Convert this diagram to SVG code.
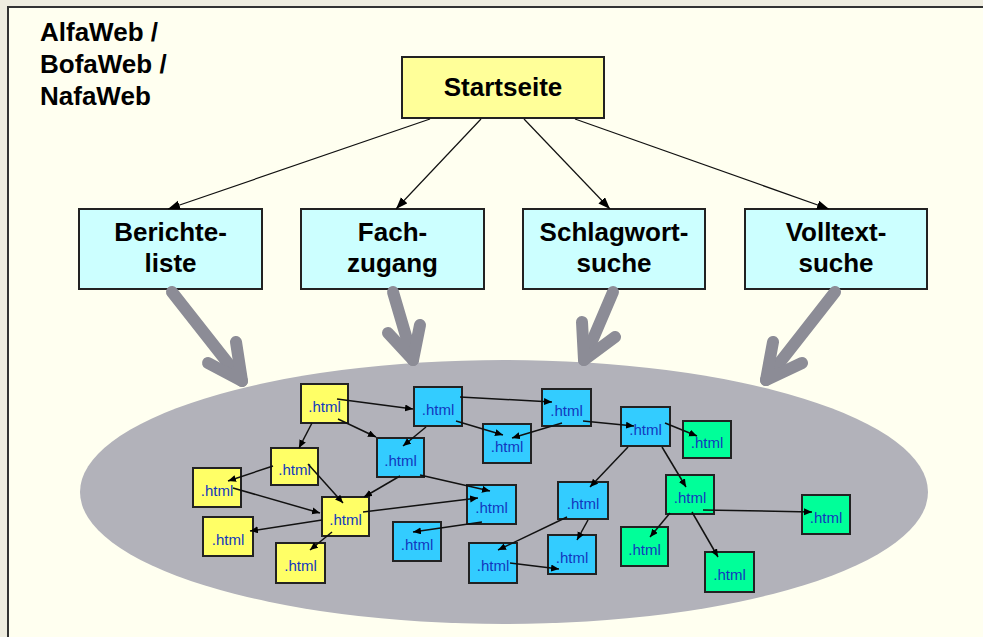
<svg xmlns="http://www.w3.org/2000/svg" width="983" height="637" viewBox="0 0 983 637">
<style>
.lbl{font-family:"Liberation Sans",Arial,sans-serif;font-weight:bold;font-size:26px;fill:#000;text-anchor:middle}
.ttl{font-family:"Liberation Sans",Arial,sans-serif;font-weight:bold;font-size:26px;fill:#000}
.box{stroke:#222;stroke-width:2}
.start{fill:#FFFF99}
.cat{fill:#CCFFFF}
.y{fill:#FFFF66}
.b{fill:#33CCFF}
.g{fill:#00FF99}
.h{font-family:"Liberation Sans",Arial,sans-serif;font-size:15px;fill:#1238BE;text-anchor:middle}
.top{stroke:#111;stroke-width:1.2;fill:none;marker-end:url(#ah)}
.lnk{stroke:#111;stroke-width:1.5;fill:none;marker-end:url(#as)}
.fat{stroke:#8C8C96;stroke-width:12;fill:none;stroke-linecap:round;stroke-linejoin:round}
</style>
<defs>
<marker id="ah" markerUnits="userSpaceOnUse" markerWidth="13" markerHeight="10" refX="12" refY="4.5" orient="auto">
<path d="M0,0 L12,4.5 L0,9 z" fill="#000"/>
</marker>
<marker id="as" markerUnits="userSpaceOnUse" markerWidth="9" markerHeight="8" refX="8" refY="3.5" orient="auto">
<path d="M0,0 L8,3.5 L0,7 z" fill="#000"/>
</marker>
</defs>
<rect x="0" y="0" width="983" height="637" fill="#EFEDE0"/>
<rect x="8" y="7" width="990" height="650" fill="#FFFFF0" stroke="#333" stroke-width="2"/>
<ellipse cx="504" cy="492" rx="424" ry="132" fill="#B2B2BA"/>

<g id="title">
<text class="ttl" x="40" y="41">AlfaWeb /</text>
<text class="ttl" x="40" y="73">BofaWeb /</text>
<text class="ttl" x="40" y="105">NafaWeb</text>
</g>

<g id="startseite"><rect class="box start" x="402" y="57" width="202" height="61"/><text class="lbl" x="503" y="96">Startseite</text></g>
<g id="berichteliste"><rect class="box cat" x="79" y="209" width="183" height="80"/><text class="lbl" x="170.5" y="241">Berichte-</text><text class="lbl" x="170.5" y="272">liste</text></g>
<g id="fachzugang"><rect class="box cat" x="301" y="209" width="183" height="80"/><text class="lbl" x="392.5" y="241">Fach-</text><text class="lbl" x="392.5" y="272">zugang</text></g>
<g id="schlagwortsuche"><rect class="box cat" x="523" y="209" width="182" height="80"/><text class="lbl" x="614" y="241">Schlagwort-</text><text class="lbl" x="614" y="272">suche</text></g>
<g id="volltextsuche"><rect class="box cat" x="745" y="209" width="182" height="80"/><text class="lbl" x="836" y="241">Volltext-</text><text class="lbl" x="836" y="272">suche</text></g>

<g id="y1"><rect class="box y" x="301" y="384" width="47" height="39"/><text class="h" x="324.5" y="412">.html</text></g>
<g id="y2"><rect class="box y" x="271" y="448" width="47" height="37"/><text class="h" x="294.5" y="475">.html</text></g>
<g id="y3"><rect class="box y" x="193" y="468" width="48" height="39"/><text class="h" x="217" y="496">.html</text></g>
<g id="y4"><rect class="box y" x="322" y="497" width="47" height="39"/><text class="h" x="345.5" y="525">.html</text></g>
<g id="y5"><rect class="box y" x="203" y="517" width="50" height="39"/><text class="h" x="228" y="545">.html</text></g>
<g id="y6"><rect class="box y" x="276" y="543" width="49" height="40"/><text class="h" x="300.5" y="571">.html</text></g>

<g id="b1"><rect class="box b" x="414" y="387" width="48" height="39"/><text class="h" x="438" y="415">.html</text></g>
<g id="b2"><rect class="box b" x="542" y="389" width="49" height="37"/><text class="h" x="566.5" y="416">.html</text></g>
<g id="b3"><rect class="box b" x="483" y="424" width="48" height="39"/><text class="h" x="507" y="452">.html</text></g>
<g id="b4"><rect class="box b" x="377" y="438" width="47" height="39"/><text class="h" x="400.5" y="466">.html</text></g>
<g id="b5"><rect class="box b" x="467" y="485" width="49" height="39"/><text class="h" x="491.5" y="513">.html</text></g>
<g id="b6"><rect class="box b" x="393" y="522" width="48" height="39"/><text class="h" x="417" y="550">.html</text></g>
<g id="b7"><rect class="box b" x="558" y="482" width="50" height="37"/><text class="h" x="583" y="509">.html</text></g>
<g id="b8"><rect class="box b" x="469" y="543" width="48" height="40"/><text class="h" x="493" y="571">.html</text></g>
<g id="b9"><rect class="box b" x="548" y="535" width="48" height="39"/><text class="h" x="572" y="563">.html</text></g>
<g id="b10"><rect class="box b" x="621" y="407" width="49" height="39"/><text class="h" x="645.5" y="435">.html</text></g>

<g id="g1"><rect class="box g" x="683" y="421" width="48" height="37"/><text class="h" x="707" y="448">.html</text></g>
<g id="g2"><rect class="box g" x="666" y="475" width="48" height="39"/><text class="h" x="690" y="503">.html</text></g>
<g id="g3"><rect class="box g" x="802" y="495" width="48" height="39"/><text class="h" x="826" y="523">.html</text></g>
<g id="g4"><rect class="box g" x="621" y="527" width="47" height="39"/><text class="h" x="644.5" y="555">.html</text></g>
<g id="g5"><rect class="box g" x="705" y="552" width="49" height="40"/><text class="h" x="729.5" y="580">.html</text></g>

<g id="connectors">
<line class="top" x1="430" y1="119" x2="168" y2="209"/>
<line class="top" x1="481" y1="119" x2="396" y2="209"/>
<line class="top" x1="524" y1="119" x2="610" y2="209"/>
<line class="top" x1="575" y1="119" x2="829" y2="209"/>
<polyline class="fat" points="172,292 242,381"/>
<polyline class="fat" points="208,363 242,381 236,342"/>
<polyline class="fat" points="393,292 413,360"/>
<polyline class="fat" points="388,333 413,360 420,325"/>
<polyline class="fat" points="613,292 584,360"/>
<polyline class="fat" points="582,322 584,360 615,337"/>
<polyline class="fat" points="835,292 766,380"/>
<polyline class="fat" points="773,342 766,380 802,363"/>
<line class="lnk" x1="337" y1="399" x2="413" y2="409"/>
<line class="lnk" x1="338" y1="419" x2="376" y2="437"/>
<line class="lnk" x1="312" y1="423" x2="299" y2="448"/>
<line class="lnk" x1="273" y1="466" x2="228" y2="481"/>
<line class="lnk" x1="308" y1="464" x2="343" y2="503"/>
<line class="lnk" x1="233" y1="488" x2="320" y2="513"/>
<line class="lnk" x1="322" y1="520" x2="250" y2="531"/>
<line class="lnk" x1="332" y1="532" x2="310" y2="550"/>
<line class="lnk" x1="400" y1="476" x2="364" y2="497"/>
<line class="lnk" x1="363" y1="512" x2="478" y2="498"/>
<line class="lnk" x1="420" y1="475" x2="490" y2="491"/>
<line class="lnk" x1="482" y1="522" x2="413" y2="532"/>
<line class="lnk" x1="460" y1="397" x2="552" y2="402"/>
<line class="lnk" x1="456" y1="421" x2="503" y2="435"/>
<line class="lnk" x1="426" y1="427" x2="403" y2="446"/>
<line class="lnk" x1="562" y1="423" x2="512" y2="438"/>
<line class="lnk" x1="583" y1="421" x2="634" y2="426"/>
<line class="lnk" x1="665" y1="423" x2="697" y2="436"/>
<line class="lnk" x1="628" y1="447" x2="590" y2="487"/>
<line class="lnk" x1="662" y1="447" x2="686" y2="487"/>
<line class="lnk" x1="703" y1="510" x2="812" y2="512"/>
<line class="lnk" x1="670" y1="513" x2="650" y2="537"/>
<line class="lnk" x1="692" y1="512" x2="718" y2="557"/>
<line class="lnk" x1="567" y1="517" x2="498" y2="550"/>
<line class="lnk" x1="588" y1="520" x2="577" y2="540"/>
<line class="lnk" x1="510" y1="563" x2="559" y2="569"/>
</g>
</svg>
